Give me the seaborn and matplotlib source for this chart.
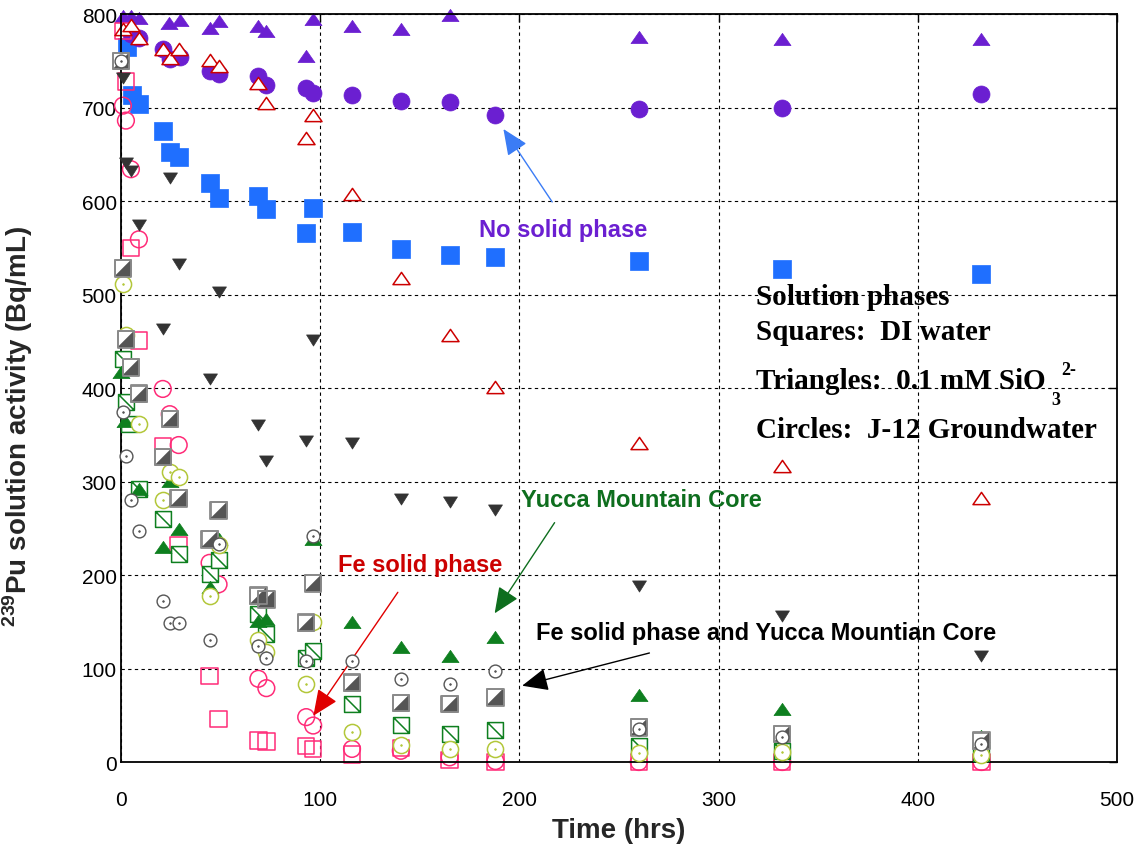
import matplotlib
matplotlib.use('Agg')
import matplotlib.pyplot as plt
from matplotlib.path import Path
import seaborn as sns

sns.set_style('white')
plt.rcParams['font.family'] = ['Liberation Sans', 'DejaVu Sans']
plt.rcParams['mathtext.fontset'] = 'custom'
plt.rcParams['mathtext.rm'] = 'Liberation Sans'
plt.rcParams['mathtext.bf'] = 'Liberation Sans:bold'

# values: time (hrs) vs 239Pu activity (Bq/mL)
# -- no solid phase --
nosolid_di_t = [3, 5.5, 9, 21, 24.5, 29, 44.5, 49, 69, 73, 93, 96.5, 116, 140.5, 165, 188, 260, 332, 432]
nosolid_di_v = [765, 713, 704, 675, 652, 647, 619, 603, 605, 591, 566, 592, 567, 549, 542, 540, 536, 527, 522]
nosolid_si_t = [1, 5, 9, 24, 29.5, 44.5, 49, 69, 73, 93, 96.5, 116, 140.5, 165, 260, 332, 432]
nosolid_si_v = [798, 798, 796, 790, 794, 785, 793, 787, 782, 755, 795, 787, 784, 799, 775, 773, 773]
nosolid_gw_t = [5, 9, 21, 24.5, 29.5, 44.5, 49, 69, 73, 93, 96.5, 116, 140.5, 165, 188, 260, 332, 432]
nosolid_gw_v = [779, 774, 763, 752, 754, 739, 736, 734, 724, 721, 715, 713, 707, 706, 692, 698, 700, 714]

# -- Fe solid phase --
fe_di_t = [1, 2.5, 5, 9, 21, 29, 44.5, 49, 69, 73, 93, 96.5, 116, 140.5, 165, 188, 260, 332, 432]
fe_di_v = [782, 728, 550, 451, 338, 232, 92, 46, 23, 22, 17, 14, 8, 15, 2, 0, 0, 0, 0]
fe_si_t = [1, 5, 9, 21, 24.5, 29, 44.5, 49, 69, 73, 93, 96.5, 116, 140.5, 165, 188, 260, 332, 432]
fe_si_v = [784, 788, 774, 763, 753, 763, 751, 744, 726, 705, 667, 692, 607, 518, 457, 401, 341, 317, 282]
fe_gw_t = [1, 2.5, 5, 9, 21, 24.5, 29, 44.5, 49, 69, 73, 93, 96.5, 116, 140.5, 165, 188, 260, 332, 432]
fe_gw_v = [702, 686, 634, 559, 399, 372, 339, 213, 190, 89, 79, 48, 39, 14, 12, 5, 1, 0, 0, 0]

# -- Yucca Mountain core --
ym_di_t = [1, 2.5, 4, 9, 21, 29, 44.5, 49, 69, 73, 93, 96.5, 116, 140.5, 165, 188, 260, 332, 432]
ym_di_v = [431, 385, 362, 292, 260, 223, 201, 216, 158, 137, 111, 119, 62, 40, 30, 34, 17, 12, 10]
ym_si_t = [0, 2, 9, 21, 24.5, 29, 44.5, 49, 69, 73, 96.5, 116, 140.5, 165, 188, 260, 332, 432]
ym_si_v = [417, 365, 292, 230, 301, 249, 187, 238, 151, 153, 238, 150, 123, 113, 134, 72, 57, 28]
ym_gw_t = [1, 2.5, 9, 21, 24.5, 29, 44.5, 49, 69, 73, 93, 96.5, 116, 140.5, 165, 188, 260, 332, 432]
ym_gw_v = [511, 457, 361, 280, 310, 305, 178, 232, 130, 118, 83, 150, 32, 18, 14, 14, 10, 11, 8]

# -- Fe solid phase + Yucca Mountain core --
feym_di_t = [0, 1, 2.5, 5, 9, 21, 24.5, 29, 44.5, 49, 69, 73, 93, 96.5, 116, 140.5, 165, 188, 260, 332, 432]
feym_di_v = [750, 528, 452, 422, 394, 326, 367, 282, 238, 269, 178, 174, 149, 191, 85, 63, 62, 69, 37, 30, 23]
feym_si_t = [1, 2.5, 5, 9, 21, 24.5, 29, 44.5, 49, 69, 73, 93, 96.5, 116, 140.5, 165, 188, 260, 332, 432]
feym_si_v = [732, 641, 632, 574, 463, 625, 533, 410, 503, 360, 322, 343, 451, 341, 281, 278, 270, 188, 156, 113]
feym_gw_t = [0, 1, 2.5, 5, 9, 21, 24.5, 29, 44.5, 49, 69, 73, 93, 96.5, 116, 140.5, 165, 188, 260, 332, 432]
feym_gw_v = [750, 374, 327, 280, 247, 172, 149, 149, 130, 233, 124, 111, 108, 242, 108, 89, 83, 97, 35, 27, 19]

# marker shapes
tri_up = Path([(-1, -0.72), (1, -0.72), (0, 0.72), (-1, -0.72)], closed=True)
tri_dn = Path([(-1, 0.8), (1, 0.8), (0, -0.8), (-1, 0.8)], closed=True)
sq_diag = Path([(-1, -1), (1, -1), (1, 1), (-1, 1), (-1, -1), (-1, 1), (1, -1)],
               [Path.MOVETO, Path.LINETO, Path.LINETO, Path.LINETO, Path.CLOSEPOLY,
                Path.MOVETO, Path.LINETO])
half_lr = Path([(1, 1), (1, -1), (-1, -1), (1, 1)], closed=True)

fig = plt.figure(figsize=(11.41, 8.53), dpi=100)
ax = fig.add_axes([0.106, 0.1055, 0.8729, 0.8769])


def pts(t, v, marker, s, fc, ec, lw=1.0, z=3):
    sns.scatterplot(x=t, y=v, marker=marker, s=s, facecolor=fc, edgecolor=ec,
                    linewidth=lw, zorder=z, clip_on=False, legend=False, ax=ax)


blue = '#1F6FFF'
purple = '#6B1FD1'
pink = '#FF2B78'
red = '#CC0000'
green = '#0E7F1F'
yellow = '#B3C73A'

pts(nosolid_di_t, nosolid_di_v, 's', 150, blue, blue, 0.5, 2.0)
pts(nosolid_si_t, nosolid_si_v, tri_up, 150, purple, purple, 0.5, 2.1)
pts(nosolid_gw_t, nosolid_gw_v, 'o', 150, purple, purple, 0.5, 2.2)
pts(fe_di_t, fe_di_v, 's', 140, 'none', pink, 1.1, 2.3)
pts(fe_gw_t, fe_gw_v, 'o', 145, 'none', pink, 1.1, 2.4)
pts(fe_si_t, fe_si_v, tri_up, 150, 'white', red, 1.1, 2.5)
pts(ym_di_t, ym_di_v, sq_diag, 130, 'white', green, 1.1, 2.55)
pts(ym_si_t, ym_si_v, tri_up, 150, green, green, 0.5, 2.6)
pts(ym_gw_t, ym_gw_v, 'o', 135, 'white', yellow, 1.1, 2.8)
pts(ym_gw_t, ym_gw_v, 'o', 1.5, yellow, yellow, 0.5, 2.81)
pts(feym_si_t, feym_si_v, tri_dn, 100, '#333333', '#333333', 0.5, 2.9)
pts(feym_di_t, feym_di_v, 's', 140, 'white', '#8A8A8A', 1.3, 3.0)
pts(feym_di_t, feym_di_v, half_lr, 140, '#555555', '#555555', 0.3, 3.01)
pts(feym_di_t, feym_di_v, 's', 140, 'none', '#8A8A8A', 1.3, 3.02)
pts(feym_gw_t, feym_gw_v, 'o', 85, 'white', '#555555', 1.0, 3.1)
pts(feym_gw_t, feym_gw_v, 'o', 1.5, '#555555', '#555555', 0.5, 3.11)

ax.set_xlim(0, 500)
ax.set_ylim(0, 800)
ax.set_xticks([0, 100, 200, 300, 400, 500])
ax.set_yticks([0, 100, 200, 300, 400, 500, 600, 700, 800])
ax.set_axisbelow(True)
ax.grid(True, color='black', linestyle=(0, (3, 3)), linewidth=0.8)
ax.tick_params(axis='both', direction='in', length=6, width=1, top=True, right=True,
               labelsize=15, colors='black')
ax.tick_params(axis='x', pad=20)
ax.tick_params(axis='y', pad=3)
for sp in ax.spines.values():
    sp.set_color('black')
    sp.set_linewidth(1.3)

ax.set_xlabel('Time (hrs)', fontsize=20, fontweight='bold', labelpad=6)
ax.set_ylabel(r'$^{\mathbf{239}}$Pu solution activity (Bq/mL)', fontsize=20,
              fontweight='bold')
ax.yaxis.set_label_coords(-0.086, 0.45)

# annotations
arrow = '-|>,head_length=0.8,head_width=0.35'
ax.text(222, 569, 'No solid phase', color=purple, fontsize=17, fontweight='bold',
        ha='center', va='center')
ax.annotate('', xy=(192, 677), xytext=(216.5, 599),
            arrowprops=dict(arrowstyle=arrow, color='#3B7CF5',
                            lw=1.0, shrinkA=0, shrinkB=0, mutation_scale=20))
ax.text(201, 281, 'Yucca Mountain Core', color='#0E6E1E', fontsize=17, fontweight='bold',
        ha='left', va='center')
ax.annotate('', xy=(187.6, 159), xytext=(217.7, 256),
            arrowprops=dict(arrowstyle=arrow, color='#0E6E1E',
                            lw=1.0, shrinkA=0, shrinkB=0, mutation_scale=20))
ax.text(150, 211, 'Fe solid phase', color=red, fontsize=17, fontweight='bold',
        ha='center', va='center')
ax.annotate('', xy=(96.6, 49.5), xytext=(139, 181.5),
            arrowprops=dict(arrowstyle=arrow, color='#E00000',
                            lw=1.0, shrinkA=0, shrinkB=0, mutation_scale=20))
ax.text(324, 139, 'Fe solid phase and Yucca Mountian Core', color='black', fontsize=17,
        fontweight='bold', ha='center', va='center')
ax.annotate('', xy=(201.4, 81.6), xytext=(265.3, 116.6),
            arrowprops=dict(arrowstyle=arrow, color='black',
                            lw=1.0, shrinkA=0, shrinkB=0, mutation_scale=20))

# solution phase key
serif = dict(family=['Liberation Serif', 'DejaVu Serif'], fontweight='bold', color='black')
ax.text(318.6, 498, 'Solution phases', fontsize=21, ha='left', va='center', **serif)
ax.text(318.6, 460, 'Squares:  DI water', fontsize=21, ha='left', va='center', **serif)
ax.text(318.6, 408, 'Triangles:  0.1 mM SiO', fontsize=21, ha='left', va='center', **serif)
ax.text(467.3, 388, '3', fontsize=13, ha='left', va='center', **serif)
ax.text(472.2, 420, '2-', fontsize=13, ha='left', va='center', **serif)
ax.text(318.6, 356, 'Circles:  J-12 Groundwater', fontsize=21, ha='left', va='center', **serif)

fig.savefig('out.png', dpi=100)
